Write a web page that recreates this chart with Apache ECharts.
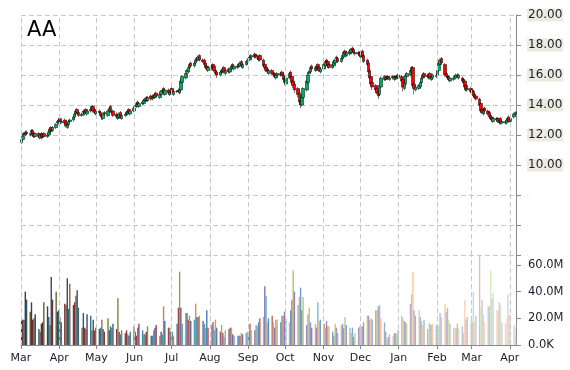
<!DOCTYPE html>
<html><head><meta charset="utf-8">
<script src="https://cdn.jsdelivr.net/npm/echarts@6/dist/echarts.min.js"></script>
<style>html,body{margin:0;padding:0;background:#fff}#c{width:570px;height:370px}</style>
</head><body><div id="c"></div>
<script>
const title = 'AA';
const monthNames = ['Jan','Feb','Mar','Apr','May','Jun','Jul','Aug','Sep','Oct','Nov','Dec'];
const startDate = [2010, 2, 1];   // first trading day (Mon)
const axisEnd = [2011, 3, 6];
const tickMonths = [[2010,2],[2010,3],[2010,4],[2010,5],[2010,6],[2010,7],[2010,8],[2010,9],[2010,10],[2010,11],[2011,0],[2011,1],[2011,2],[2011,3]];
const priceTicks = [10, 12, 14, 16, 18, 20];
const volumeTicks = [0, 20, 40, 60];

// one row per week (Mon..Fri)
const opens = [
11.5,11.7,12.1,12.0,12.2, 12.0,12.2,12.3,12.1,11.9, 12.1,11.8,12.1,11.9,12.1, 11.9,12.0,12.2,12.5,12.3,
12.5,12.8,12.8,13.1,12.8, 13.0,12.8,12.5,12.7,12.9, 13.0,13.2,13.4,13.7,13.5, 13.3,13.6,13.4,13.7,13.4,
13.6,13.7,13.9,13.7,13.4, 13.6,13.5,13.3,13.1,13.5, 13.3,13.6,13.9,13.6,13.6, 13.4,13.1,13.2,13.5,13.1,
13.3,13.4,13.4,13.7,13.4, 13.6,13.9,13.9,14.2,13.9, 14.1,14.1,14.3,14.5,14.3, 14.6,14.4,14.6,14.5,14.8,
14.5,14.7,14.9,15.1,14.7, 15.0,14.7,14.8,15.1,14.7, 14.9,15.0,14.8,15.0,15.5, 15.8,16.2,16.2,16.5,16.8,
16.6,16.8,17.0,17.0,17.3, 17.0,17.0,16.8,16.6,16.3, 16.4,16.7,16.6,16.3,16.2, 16.0,16.2,16.2,16.5,16.1,
16.4,16.2,16.4,16.7,16.4, 16.5,16.6,16.6,16.9,16.5, 16.7,16.8,17.1,17.0,17.2, 17.4,17.3,17.1,17.0,17.3,
17.0,16.7,16.5,16.4,16.1, 16.3,16.1,16.1,15.8,16.0, 16.0,16.2,16.0,15.8,15.4, 15.8,16.2,15.9,15.6,15.4,
15.1,14.8,14.3,14.0,14.5, 15.0,15.5,16.1,16.2,16.6, 16.3,16.4,16.7,16.5,16.2, 16.4,16.6,17.0,16.9,16.7,
16.5,16.6,16.8,17.2,17.1, 16.9,17.1,17.2,17.6,17.3, 17.4,17.5,17.8,17.7,17.4, 17.5,17.5,17.2,17.6,17.3,
17.0,16.8,16.3,15.9,15.5, 15.3,15.1,14.9,14.7,15.2, 15.9,15.7,15.8,15.9,15.7, 15.9,15.7,15.9,15.8,16.0,
15.9,15.7,15.1,15.4,15.9, 16.0,16.2,16.5,15.4,15.0, 15.1,15.2,15.5,15.8,16.1, 16.0,15.8,16.1,15.7,15.8,
15.9,16.0,16.3,16.7,17.1, 16.7,16.1,15.9,15.9,15.6, 15.7,15.9,15.8,16.0,15.8, 15.8,15.7,15.6,15.3,15.0,
15.1,15.0,14.9,14.7,14.6, 14.4,14.1,13.7,13.4,13.8, 13.6,13.5,13.3,13.2,12.9, 13.1,13.1,12.8,13.1,12.8,
12.8,12.8,13.0,13.2,12.9, 13.2,13.4
];
const closes = [
11.7,11.9,12.0,12.2,12.1, 12.1,12.3,12.0,11.9,12.1, 11.9,12.0,11.8,12.0,11.9, 12.0,12.2,12.4,12.3,12.5,
12.7,12.9,13.0,12.9,12.9, 12.8,12.6,12.7,12.9,13.0, 13.2,13.4,13.6,13.5,13.3, 13.4,13.5,13.6,13.5,13.6,
13.7,13.9,13.6,13.5,13.6, 13.5,13.3,13.2,13.4,13.4, 13.6,13.8,13.7,13.5,13.3, 13.2,13.3,13.4,13.2,13.3,
13.4,13.5,13.6,13.5,13.6, 13.8,13.9,14.1,14.0,14.1, 14.2,14.3,14.4,14.3,14.5, 14.4,14.6,14.5,14.7,14.6,
14.7,14.9,15.0,14.8,15.0, 14.8,14.9,15.0,14.8,14.9, 14.9,14.9,15.0,15.6,15.9, 16.1,16.3,16.5,16.7,16.6,
16.8,17.0,17.1,17.2,17.0, 16.9,16.7,16.5,16.4,16.5, 16.6,16.5,16.3,16.1,16.0, 16.2,16.3,16.4,16.2,16.3,
16.2,16.4,16.6,16.5,16.6, 16.6,16.7,16.8,16.6,16.7, 16.9,17.0,17.1,17.2,17.3, 17.2,17.2,17.1,17.2,17.0,
16.6,16.5,16.3,16.2,16.3, 16.1,16.0,15.9,16.0,16.1, 16.1,16.0,15.7,15.5,15.8, 16.1,15.9,15.5,15.3,15.0,
14.7,14.2,14.0,14.6,15.1, 15.6,16.0,16.2,16.5,16.4, 16.5,16.6,16.4,16.3,16.4, 16.7,16.9,16.8,16.6,16.5,
16.7,16.9,17.0,17.1,16.9, 17.1,17.3,17.5,17.4,17.5, 17.6,17.7,17.6,17.5,17.5, 17.4,17.3,17.5,17.2,16.9,
16.7,16.2,15.8,15.4,15.2, 15.0,14.8,14.6,15.3,15.8, 15.7,15.8,15.9,15.8,15.8, 15.8,15.9,15.8,15.9,15.8,
15.6,15.2,15.5,16.0,16.1, 16.3,16.5,15.3,15.1,15.2, 15.3,15.5,15.8,16.0,15.9, 15.9,16.0,15.8,15.9,16.0,
16.0,16.3,16.8,17.0,16.8, 16.0,15.9,15.8,15.7,15.8, 15.8,15.9,16.0,15.9,16.0, 15.6,15.5,15.2,15.0,15.1,
14.9,14.8,14.6,14.5,14.4, 14.0,13.6,13.5,13.7,13.6, 13.4,13.2,13.1,13.0,13.1, 13.0,12.9,13.0,12.8,12.9,
12.9,13.0,13.1,12.9,13.1, 13.4,13.5
];
const lows = [
11.4,11.6,11.9,11.9,12.0, 11.9,12.1,11.9,11.8,11.8, 11.8,11.7,11.7,11.8,11.8, 11.8,11.9,12.1,12.2,12.2,
12.4,12.7,12.7,12.8,12.7, 12.7,12.5,12.4,12.6,12.8, 12.9,13.1,13.3,13.4,13.2, 13.2,13.4,13.3,13.4,13.3,
13.5,13.6,13.5,13.4,13.3, 13.4,13.2,13.0,13.0,13.3, 13.2,13.5,13.6,13.4,13.2, 13.1,13.0,13.1,13.1,13.0,
13.2,13.3,13.3,13.4,13.3, 13.5,13.8,13.8,13.9,13.8, 14.0,14.0,14.2,14.2,14.2, 14.3,14.3,14.4,14.4,14.5,
14.4,14.6,14.8,14.7,14.6, 14.7,14.6,14.7,14.7,14.6, 14.8,14.8,14.7,14.9,15.4, 15.7,16.0,16.1,16.4,16.5,
16.5,16.7,16.9,16.9,16.9, 16.8,16.6,16.4,16.3,16.2, 16.3,16.4,16.2,16.0,15.8, 15.9,16.1,16.1,16.1,16.0,
16.1,16.1,16.3,16.4,16.3, 16.4,16.5,16.5,16.5,16.4, 16.6,16.7,17.0,16.9,17.1, 17.1,17.1,17.0,16.9,16.9,
16.5,16.4,16.2,16.1,16.0, 16.0,15.9,15.8,15.7,15.9, 15.9,15.9,15.6,15.3,15.3, 15.7,15.8,15.4,15.1,14.8,
14.5,14.0,13.8,13.9,14.4, 14.9,15.4,16.0,16.1,16.3, 16.2,16.3,16.3,16.2,16.1, 16.3,16.5,16.7,16.5,16.4,
16.4,16.5,16.7,17.0,16.8, 16.8,17.0,17.1,17.3,17.2, 17.3,17.4,17.5,17.4,17.3, 17.3,17.2,17.1,17.1,16.8,
16.6,16.1,15.7,15.3,15.0, 14.9,14.7,14.4,14.6,15.1, 15.6,15.6,15.7,15.7,15.6, 15.7,15.6,15.7,15.7,15.7,
15.5,14.9,15.0,15.3,15.8, 15.9,16.1,15.2,14.7,14.9, 15.0,15.1,15.4,15.7,15.8, 15.8,15.7,15.7,15.6,15.7,
15.8,15.9,16.2,16.6,16.7, 15.9,15.8,15.7,15.6,15.5, 15.6,15.8,15.7,15.8,15.7, 15.5,15.4,15.1,14.9,14.9,
14.8,14.7,14.5,14.4,14.3, 13.9,13.5,13.4,13.3,13.5, 13.3,13.1,13.0,12.9,12.8, 12.9,12.8,12.7,12.7,12.7,
12.7,12.7,12.9,12.8,12.8, 13.1,13.3
];
const highs = [
11.8,12.0,12.2,12.3,12.3, 12.2,12.4,12.4,12.2,12.2, 12.2,12.1,12.2,12.1,12.2, 12.1,12.3,12.5,12.6,12.6,
12.8,13.0,13.1,13.2,13.0, 13.1,12.9,12.8,13.0,13.1, 13.3,13.5,13.7,13.8,13.6, 13.5,13.7,13.7,13.8,13.7,
13.8,14.0,14.0,13.8,13.7, 13.7,13.6,13.4,13.5,13.6, 13.7,13.9,14.0,13.7,13.7, 13.5,13.4,13.5,13.6,13.4,
13.5,13.6,13.7,13.8,13.7, 13.9,14.0,14.2,14.3,14.2, 14.3,14.4,14.5,14.6,14.6, 14.7,14.7,14.7,14.8,14.9,
14.8,15.0,15.1,15.2,15.1, 15.1,15.0,15.1,15.2,15.0, 15.0,15.1,15.1,15.7,16.0, 16.2,16.4,16.6,16.8,16.9,
16.9,17.1,17.2,17.3,17.4, 17.1,17.1,16.9,16.7,16.6, 16.7,16.8,16.7,16.4,16.3, 16.3,16.4,16.5,16.6,16.4,
16.5,16.5,16.7,16.8,16.7, 16.7,16.8,16.9,17.0,16.8, 17.0,17.1,17.2,17.3,17.4, 17.5,17.4,17.3,17.3,17.4,
17.1,16.8,16.6,16.5,16.4, 16.4,16.2,16.2,16.1,16.2, 16.2,16.3,16.1,15.9,15.9, 16.2,16.3,16.0,15.7,15.5,
15.2,14.9,14.4,14.7,15.2, 15.7,16.1,16.3,16.6,16.7, 16.6,16.7,16.8,16.6,16.5, 16.8,17.0,17.1,17.0,16.8,
16.8,17.0,17.1,17.3,17.2, 17.2,17.4,17.6,17.7,17.6, 17.7,17.8,17.9,17.8,17.6, 17.6,17.6,17.6,17.7,17.4,
17.1,16.9,16.4,16.0,15.6, 15.4,15.2,15.0,15.4,15.9, 16.0,15.9,16.0,16.0,15.9, 16.0,16.0,16.0,16.0,16.1,
16.0,15.8,15.6,16.1,16.2, 16.4,16.6,16.6,15.5,15.3, 15.4,15.6,15.9,16.1,16.2, 16.1,16.1,16.2,16.0,16.1,
16.1,16.4,16.9,17.1,17.2, 16.8,16.2,16.0,16.0,15.9, 15.9,16.0,16.1,16.1,16.1, 15.9,15.8,15.7,15.4,15.2,
15.2,15.1,15.0,14.8,14.7, 14.5,14.2,13.8,13.8,13.9, 13.7,13.6,13.4,13.3,13.2, 13.2,13.2,13.1,13.2,13.0,
13.0,13.1,13.2,13.3,13.2, 13.5,13.6
];
// volume in millions
const volumes = [
19,19,19,40,34, 25,32,19,20,23, 12,10,16,17,32, 29,21,15,51,34, 40,25,26,21,17, 31,30,50,27,46,
30,32,37,41,28, 13,24,13,12,23, 22,11,19,11,13, 12,13,19,12,10, 20,11,14,13,16, 12,35,10,8,11,
9,11,8,7,10, 14,10,7,13,16, 11,8,8,10,14, 7,7,11,13,15, 7,10,8,29,18, 13,13,10,10,7,
16,28,55,28,16, 24,24,19,22,18, 19,31,21,21,22, 18,16,13,26,13, 15,17,11,19,13, 10,15,9,6,11,
12,13,13,8,7, 7,7,7,9,8, 9,10,10,16,11, 11,15,14,17,20, 21,44,37,17,20, 22,17,13,19,19,
17,22,22,25,20, 17,26,34,56,40, 30,36,43,26,36, 15,23,28,17,13, 16,13,32,18,19, 16,13,18,14,14,
10,7,16,13,9, 15,16,13,21,15, 13,9,13,6,9, 13,14,14,14,17, 22,22,19,20,19, 26,26,29,30,20,
17,10,4,6,8, 7,9,9,8,11, 22,20,18,17,16, 31,38,55,26,22, 26,21,18,15,19, 12,16,16,15,16,
15,14,15,24,21, 31,25,28,19,16, 13,12,13,16,13, 14,9,34,19,21, 19,17,40,17,22, 67,28,34,23,17,
29,29,56,35,39, 26,26,32,30,17, 16,20,38,23,23, 15,12
];

// trading days: weekdays from startDate
const dates = [];
{
  const d = new Date(startDate[0], startDate[1], startDate[2], 12);
  while (dates.length < closes.length) {
    const wd = d.getDay();
    if (wd !== 0 && wd !== 6) dates.push(d.getTime());
    d.setDate(d.getDate() + 1);
  }
}
const xMin = new Date(startDate[0], startDate[1], startDate[2]).getTime();
const xMax = new Date(axisEnd[0], axisEnd[1], axisEnd[2]).getTime();
const monthTicks = tickMonths.map(m => new Date(m[0], m[1], 1).getTime());

const candleData = dates.map((t, i) => [t, opens[i], closes[i], lows[i], highs[i]]);
const volData = dates.map((t, i) => [t, volumes[i]]);

const palette = ['#4F81BD','#C0504D','#9BBB59','#8064A2','#4BACC6','#F79646'];
function shade(hex, f) {
  const n = parseInt(hex.slice(1), 16);
  let c = [(n >> 16) & 255, (n >> 8) & 255, n & 255];
  c = c.map(v => f < 0 ? Math.round(v * (1 + f)) : Math.round(v + (255 - v) * f));
  return 'rgb(' + c.join(',') + ')';
}
const N = volumes.length;

const font = 'DejaVu Sans';
const dashStyle = { color: '#c8c8c8', type: [5, 3], width: 1 };
const gridLine = { show: true, lineStyle: dashStyle };
const monthLines = {
  silent: true, symbol: ['none', 'none'], animation: false,
  label: { show: false }, emphasis: { disabled: true },
  lineStyle: dashStyle,
  data: monthTicks.map(t => ({ xAxis: t }))
};

const chart = echarts.init(document.getElementById('c'), null, { renderer: 'canvas' });
chart.setOption({
  animation: false,
  backgroundColor: '#fff',
  title: { text: title, left: 27, top: 20, padding: 0,
    textStyle: { fontSize: 21, fontWeight: 'normal', color: '#000', fontFamily: font } },
  grid: [
    { left: 21, right: 54, top: 15, height: 240 },
    { left: 21, right: 54, top: 255, height: 90 }
  ],
  xAxis: [
    { type: 'value', gridIndex: 0, min: xMin, max: xMax, scale: true,
      axisLine: { show: false },
      axisTick: { show: false, customValues: monthTicks },
      axisLabel: { show: false, customValues: monthTicks },
      splitLine: { show: false } },
    { type: 'value', gridIndex: 1, min: xMin, max: xMax, scale: true,
      axisLine: { show: true, lineStyle: { color: '#888', width: 1 } },
      axisTick: { show: true, length: 4, lineStyle: { color: '#888' }, customValues: monthTicks },
      axisLabel: { show: true, fontSize: 11, fontFamily: font, color: '#1c1c2c', margin: 8,
        customValues: monthTicks,
        formatter: v => monthNames[new Date(v).getMonth()],
        showMinLabel: true, showMaxLabel: true, hideOverlap: false },
      splitLine: { show: false } }
  ],
  yAxis: [
    { type: 'value', gridIndex: 0, position: 'right', min: 4, max: 20, interval: 2,
      axisLine: { show: true, lineStyle: { color: '#888', width: 1 } },
      axisTick: { show: true, length: 5, lineStyle: { color: '#888' } },
      axisLabel: { fontSize: 12, fontFamily: font, color: '#1c1c2c', margin: 11,
        backgroundColor: '#ecebdf', padding: [1, 1, 0, 1],
        formatter: v => priceTicks.includes(v) ? v.toFixed(2) : '' },
      splitLine: gridLine },
    { type: 'value', gridIndex: 1, position: 'right', min: 0, max: 67.5, interval: 20,
      axisLine: { show: true, lineStyle: { color: '#888', width: 1 } },
      axisTick: { show: true, length: 5, lineStyle: { color: '#888' } },
      axisLabel: { fontSize: 11.5, fontFamily: font, color: '#1c1c2c', margin: 12,
        formatter: v => volumeTicks.includes(v) ? (v === 0 ? '0.0K' : v.toFixed(1) + 'M') : '' },
      splitLine: { show: false } }
  ],
  series: [
    { type: 'candlestick', xAxisIndex: 0, yAxisIndex: 0, data: candleData, barWidth: 3,
      itemStyle: { color: '#00b060', color0: '#ff0000', borderColor: '#000', borderColor0: '#000', borderWidth: 0.5 },
      markLine: monthLines, z: 3 },
    { type: 'bar', xAxisIndex: 1, yAxisIndex: 1, data: volData, barWidth: 1.4,
      itemStyle: { color: p => shade(palette[p.dataIndex % 6], Math.min(0.75, -0.5 + 1.2 * p.dataIndex / (N - 1))) },
      markLine: monthLines }
  ]
});
</script></body></html>
